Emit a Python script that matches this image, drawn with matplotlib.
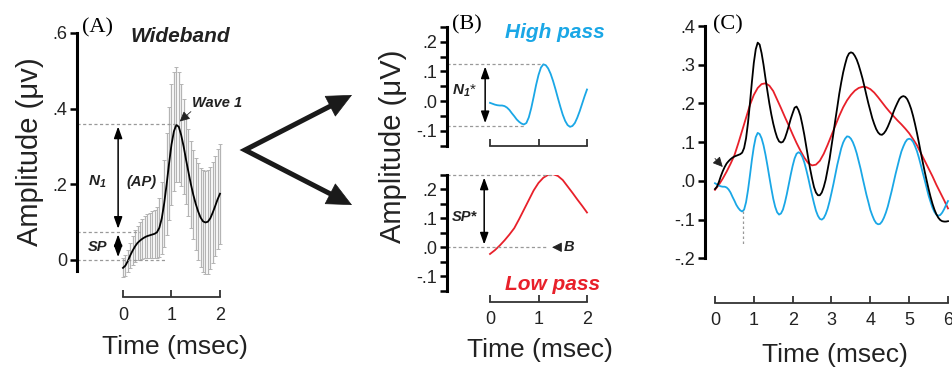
""" wideband, high pass and low pass responses (panels A, B, C)"""

import numpy as np
import matplotlib
matplotlib.use("Agg")
import matplotlib.pyplot as plt
from matplotlib.lines import Line2D
from matplotlib.patches import FancyArrowPatch
from matplotlib.ticker import FixedLocator

plt.rcParams['font.family'] = ['Liberation Sans', 'DejaVu Sans']
plt.rcParams['mathtext.fontset'] = 'custom'
plt.rcParams['mathtext.rm'] = 'Liberation Sans:bold:italic'
plt.rcParams['mathtext.it'] = 'Liberation Sans:bold:italic'

# ---------------- data ----------------
# wideband and high pass traces, sampled every 0.05 msec (0 - 6 msec)
step_fine = 0.05
wideband = [-0.021, -0.015, -0.003, 0.012, 0.025, 0.036, 0.045, 0.051, 0.056, 0.060,
            0.063, 0.065, 0.067, 0.069, 0.073, 0.085, 0.110, 0.150, 0.200, 0.255,
            0.305, 0.340, 0.357, 0.352, 0.330, 0.300, 0.265, 0.232, 0.200, 0.172,
            0.148, 0.128, 0.112, 0.102, 0.099, 0.101, 0.110, 0.125, 0.142, 0.160,
            0.175, 0.189, 0.192, 0.183, 0.168, 0.145, 0.119, 0.089, 0.059, 0.031,
            0.006, -0.016, -0.030, -0.037, -0.037, -0.030, -0.016, 0.003, 0.029, 0.056,
            0.090, 0.123, 0.158, 0.191, 0.225, 0.254, 0.280, 0.301, 0.319, 0.329,
            0.332, 0.330, 0.323, 0.313, 0.299, 0.282, 0.264, 0.243, 0.221, 0.200,
            0.181, 0.162, 0.147, 0.134, 0.125, 0.120, 0.119, 0.123, 0.130, 0.140,
            0.152, 0.165, 0.179, 0.191, 0.202, 0.212, 0.217, 0.219, 0.217, 0.211,
            0.200, 0.186, 0.168, 0.147, 0.124, 0.099, 0.073, 0.048, 0.024, 0.001,
            -0.021, -0.041, -0.059, -0.074, -0.086, -0.095, -0.101, -0.104, -0.105, -0.105,
            -0.104]
high_pass = [-0.006, -0.009, -0.012, -0.014, -0.015, -0.015, -0.017, -0.022, -0.030, -0.041,
             -0.051, -0.062, -0.070, -0.076, -0.079, -0.074, -0.055, -0.024, 0.014, 0.054,
             0.088, 0.113, 0.124, 0.121, 0.110, 0.092, 0.068, 0.040, 0.010, -0.019,
             -0.046, -0.067, -0.081, -0.087, -0.084, -0.074, -0.056, -0.034, -0.009, 0.016,
             0.039, 0.058, 0.070, 0.074, 0.071, 0.062, 0.048, 0.029, 0.008, -0.015,
             -0.037, -0.058, -0.077, -0.090, -0.098, -0.100, -0.096, -0.086, -0.072, -0.053,
             -0.031, -0.008, 0.017, 0.042, 0.063, 0.084, 0.099, 0.109, 0.115, 0.114,
             0.109, 0.100, 0.087, 0.071, 0.051, 0.031, 0.008, -0.014, -0.036, -0.055,
             -0.075, -0.089, -0.101, -0.109, -0.112, -0.111, -0.105, -0.095, -0.082, -0.066,
             -0.046, -0.026, -0.004, 0.018, 0.038, 0.058, 0.076, 0.089, 0.100, 0.107,
             0.109, 0.107, 0.101, 0.090, 0.077, 0.060, 0.041, 0.021, 0.002, -0.018,
             -0.038, -0.054, -0.069, -0.080, -0.087, -0.090, -0.088, -0.082, -0.073, -0.062,
             -0.052]

# sd of the wideband average, panel A (0 - 2 msec, every 0.05 msec)
wide_sd = [0.025, 0.028, 0.030, 0.034, 0.038, 0.042, 0.046, 0.050, 0.053, 0.056,
           0.058, 0.060, 0.062, 0.064, 0.068, 0.078, 0.095, 0.115, 0.135, 0.150,
           0.160, 0.158, 0.152, 0.145, 0.135, 0.125, 0.118, 0.115, 0.115, 0.118,
           0.122, 0.128, 0.132, 0.135, 0.137, 0.137, 0.135, 0.133, 0.132, 0.132,
           0.132]

# low pass trace, sampled every 0.1 msec (0 - 6 msec)
step_low = 0.1
low_pass = [-0.023, -0.010, 0.006, 0.024, 0.044, 0.066, 0.097, 0.130, 0.163, 0.196,
            0.222, 0.240, 0.250, 0.252, 0.246, 0.232, 0.210, 0.188, 0.165, 0.143,
            0.120, 0.098, 0.078, 0.060, 0.046, 0.040, 0.042, 0.052, 0.070, 0.093,
            0.118, 0.143, 0.168, 0.190, 0.208, 0.222, 0.233, 0.240, 0.243, 0.242,
            0.237, 0.228, 0.216, 0.203, 0.190, 0.178, 0.167, 0.156, 0.146, 0.135,
            0.123, 0.108, 0.092, 0.072, 0.052, 0.032, 0.012, -0.010, -0.030, -0.050,
            -0.071]

# measured levels
n1_top, sp_top = 0.36, 0.075
n1s_top, n1s_bot = 0.126, -0.084
sps_top = 0.25

BLUE = '#1aa7e6'
RED = '#e8202a'
GREY = '#999999'
LW = 1.3

W, H = 953, 369
fig = plt.figure(figsize=(W / 100, H / 100), dpi=100)


def px_axes(left, top, right, bottom):
    """ axes given by its pixel box (origin top left)"""
    return fig.add_axes([left / W, 1 - bottom / H, (right - left) / W, (bottom - top) / H])


def ftext(x, y, s, **kw):
    kw.setdefault('ha', 'center')
    kw.setdefault('va', 'center')
    return fig.text(x / W, 1 - y / H, s, **kw)


def style_axes(ax, ybounds, xbounds, yticks, ylabels, xticks, xlabels):
    for side in ('top', 'right'):
        ax.spines[side].set_visible(False)
    ax.spines['left'].set_linewidth(2.2)
    ax.spines['left'].set_bounds(*ybounds)
    ax.spines['bottom'].set_linewidth(1.3)
    ax.spines['bottom'].set_color('#333333')
    ax.spines['bottom'].set_bounds(*xbounds)
    ax.set_yticks(yticks)
    ax.set_yticklabels(ylabels)
    ax.set_xticks(xticks)
    ax.set_xticklabels(xlabels)
    ax.tick_params(axis='y', direction='out', length=5, width=1.8, labelsize=13,
                   pad=2, labelcolor='#222222')
    ax.tick_params(axis='x', direction='in', length=5, width=1.3, color='#333333',
                   labelsize=13, pad=7, labelcolor='#222222')
    ax.patch.set_visible(False)


def dashed(ax, x0, x1, y):
    ax.plot([x0, x1], [y, y], color=GREY, lw=0.9, ls=(0, (2.5, 2)), clip_on=False)


def double_arrow(ax, x, y0, y1):
    ax.annotate('', xy=(x, y1), xytext=(x, y0),
                arrowprops=dict(arrowstyle='<|-|>,head_length=0.7,head_width=0.25',
                                mutation_scale=10, color='black', lw=1.1,
                                shrinkA=2, shrinkB=2))


def small_head(ax, tip, tail, color='#222222'):
    ax.annotate('', xy=tip, xytext=tail,
                arrowprops=dict(arrowstyle='-|>,head_length=0.6,head_width=0.3',
                                mutation_scale=10, color=color, lw=0.6,
                                shrinkA=0, shrinkB=0))


t_fine = np.arange(len(wideband)) * step_fine
t_low = np.arange(len(low_pass)) * step_low
n_a = len(wide_sd)            # first 2 msec of the fine traces
n_low = 21                    # first 2 msec of the low pass trace

# ---------------- panel A ----------------
ax_a = px_axes(77, 25, 223, 297)
ax_a.set_xlim(-0.948, 2.062)
ax_a.set_ylim(-0.098, 0.621)
style_axes(ax_a, (-0.03, 0.6), (0, 2), [0, 0.2, 0.4, 0.6], ['0', '.2', '.4', '.6'],
           [0, 1, 2], ['0', '1', '2'])
ax_a.errorbar(t_fine[:n_a], wideband[:n_a], yerr=wide_sd, fmt='none', ecolor='#b4b4b4',
              elinewidth=0.9, capsize=1.5, capthick=0.7)
ax_a.plot(t_fine[:n_a], wideband[:n_a], color='black', lw=LW)
x_left = -0.948
dashed(ax_a, x_left, 1.11, n1_top)
dashed(ax_a, x_left, 0.35, sp_top)
dashed(ax_a, x_left, 0.87, 0.0)
double_arrow(ax_a, -0.10, sp_top, n1_top)
double_arrow(ax_a, -0.10, 0.0, sp_top)
ax_a.text(-0.53, 0.206, r'$N_1$', fontsize=11, ha='center', va='center', color='#222222')
ax_a.text(0.38, 0.206, '(AP)', fontsize=10.5, fontweight='bold', style='italic',
          ha='center', va='center', color='#222222')
ax_a.text(-0.53, 0.034, 'SP', fontsize=10.5, fontweight='bold', style='italic',
          ha='center', va='center', color='#222222')
ax_a.text(1.43, 0.415, 'Wave 1', fontsize=10.5, fontweight='bold', style='italic',
          ha='left', va='center', color='#222222')
small_head(ax_a, (1.17, 0.366), (1.40, 0.392))

ftext(98, 28, '(A)', fontsize=16, family='Liberation Serif')
ftext(130, 37, 'Wideband', fontsize=15, fontweight='bold', style='italic',
      ha='left', color='#222222')
ftext(30, 152, 'Amplitude (\u03bcv)', fontsize=21, rotation=90, color='#222222')
ftext(175, 347, 'Time (msec)', fontsize=19, color='#222222')

# ---------------- panel B ----------------
ax_b1 = px_axes(447, 27, 590, 145.5)
ax_b1.set_xlim(-0.887, 2.062)
ax_b1.set_ylim(-0.15, 0.25)
style_axes(ax_b1, (-0.15, 0.25), (0, 2), [-0.1, 0, 0.1, 0.2], ['-.1', '.0', '.1', '.2'],
           [0, 1, 2], [])
ax_b1.yaxis.set_minor_locator(FixedLocator([-0.15, -0.05, 0.05, 0.15, 0.25]))
ax_b1.tick_params(axis='y', which='minor', direction='out', length=5, width=1.8)
ax_b1.plot(t_fine[:n_a], high_pass[:n_a], color=BLUE, lw=LW)
dashed(ax_b1, -0.887, 1.09, n1s_top)
dashed(ax_b1, -0.887, 0.72, n1s_bot)
double_arrow(ax_b1, -0.10, n1s_bot, n1s_top)
ax_b1.text(-0.53, 0.035, r'$N_1$*', fontsize=11, ha='center', va='center', color='#222222')

ax_b2 = px_axes(447, 174.8, 590, 301.7)
ax_b2.set_xlim(-0.887, 2.062)
ax_b2.set_ylim(-0.1876, 0.25)
style_axes(ax_b2, (-0.15, 0.25), (0, 2), [-0.1, 0, 0.1, 0.2], ['-.1', '.0', '.1', '.2'],
           [0, 1, 2], ['0', '1', '2'])
ax_b2.yaxis.set_minor_locator(FixedLocator([-0.15, -0.05, 0.05, 0.15, 0.25]))
ax_b2.tick_params(axis='y', which='minor', direction='out', length=5, width=1.8)
ax_b2.plot(t_low[:n_low], low_pass[:n_low], color=RED, lw=LW)
dashed(ax_b2, -0.887, 1.3, sps_top)
dashed(ax_b2, -0.887, 1.2, 0.0)
double_arrow(ax_b2, -0.12, 0.0, sps_top)
ax_b2.text(-0.53, 0.104, 'SP*', fontsize=10.5, fontweight='bold', style='italic',
           ha='center', va='center', color='#222222')
small_head(ax_b2, (1.28, 0.0), (1.45, 0.0))
ax_b2.text(1.52, 0.0, 'B', fontsize=10.5, fontweight='bold', style='italic',
           ha='left', va='center', color='#222222')

ftext(467, 25, '(B)', fontsize=16, family='Liberation Serif')
ftext(505, 33, 'High pass', fontsize=15, fontweight='bold', style='italic',
      ha='left', color=BLUE)
ftext(505, 285, 'Low pass', fontsize=15, fontweight='bold', style='italic',
      ha='left', color=RED)
ftext(393, 146, 'Amplitude (\u03bcV)', fontsize=21, rotation=90, color='#222222')
ftext(540, 350, 'Time (msec)', fontsize=19, color='#222222')

# ---------------- panel C ----------------
ax_c = px_axes(705, 20, 951, 302.7)
ax_c.set_xlim(-0.257, 6.077)
ax_c.set_ylim(-0.3145, 0.4155)
style_axes(ax_c, (-0.2, 0.4), (0, 6), [-0.2, -0.1, 0, 0.1, 0.2, 0.3, 0.4],
           ['-.2', '-.1', '.0', '.1', '.2', '.3', '.4'],
           range(7), [str(i) for i in range(7)])
ax_c.plot(t_low, low_pass, color=RED, lw=LW)
ax_c.plot(t_fine, high_pass, color=BLUE, lw=LW)
ax_c.plot(t_fine, wideband, color='black', lw=LW)
ax_c.plot([0.71, 0.71], [-0.077, -0.165], color=GREY, lw=0.9, ls=(0, (2, 2)))
small_head(ax_c, (0.2, 0.036), (0.0, 0.058))

ftext(728, 25, '(C)', fontsize=16, family='Liberation Serif')
ftext(835, 355, 'Time (msec)', fontsize=19, color='#222222')

# ---------------- arrows between A and B ----------------
vertex = (245, 150)
tips = [(352, 95), (352, 205)]


def to_fig(p):
    return (p[0] / W, 1 - p[1] / H)


back = []
for tip in tips:
    d = np.subtract(tip, vertex)
    d = d / np.hypot(*d)
    back.append(np.array(tip) - 18 * d)
line = Line2D([back[0][0] / W, vertex[0] / W, back[1][0] / W],
              [1 - back[0][1] / H, 1 - vertex[1] / H, 1 - back[1][1] / H],
              transform=fig.transFigure, color='#1a1a1a', lw=3.6,
              solid_joinstyle='miter', solid_capstyle='butt')
fig.add_artist(line)
for tip in tips:
    d = np.subtract(tip, vertex)
    d = d / np.hypot(*d)
    start = np.array(tip) - 30 * d
    fig.add_artist(FancyArrowPatch(to_fig(start), to_fig(tip), transform=fig.transFigure,
                                   arrowstyle='-|>,head_length=17,head_width=8',
                                   mutation_scale=1, color='#1a1a1a', lw=0.5,
                                   shrinkA=0, shrinkB=0))

fig.savefig('out.png', dpi=100)
